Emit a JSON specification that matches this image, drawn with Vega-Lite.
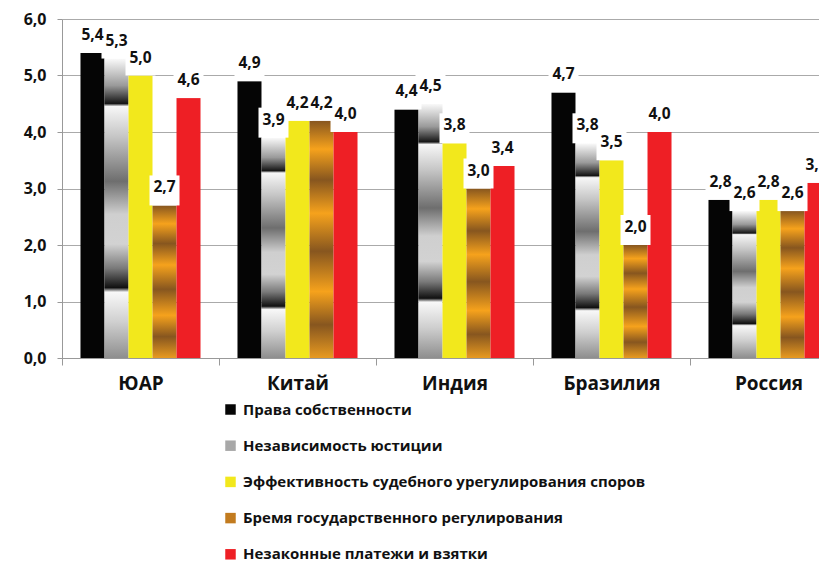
{
  "$schema": "https://vega.github.io/schema/vega-lite/v6.json",
  "width": 785,
  "height": 339,
  "autosize": {"type": "none"},
  "padding": {"left": 62, "top": 19, "right": 0, "bottom": 204},
  "background": "white",
  "config": {
    "view": {"stroke": null},
    "font": "Open Sans",
    "locale": {"number": {"decimal": ",", "thousands": " ", "grouping": [3], "currency": ["", ""]}}
  },
  "data": {
    "values": [
      {"country": "ЮАР", "series": "Права собственности", "value": 5.4},
      {"country": "ЮАР", "series": "Независимость юстиции", "value": 5.3},
      {"country": "ЮАР", "series": "Эффективность судебного урегулирования споров", "value": 5.0},
      {"country": "ЮАР", "series": "Бремя государственного регулирования", "value": 2.7},
      {"country": "ЮАР", "series": "Незаконные платежи и взятки", "value": 4.6},
      {"country": "Китай", "series": "Права собственности", "value": 4.9},
      {"country": "Китай", "series": "Независимость юстиции", "value": 3.9},
      {"country": "Китай", "series": "Эффективность судебного урегулирования споров", "value": 4.2},
      {"country": "Китай", "series": "Бремя государственного регулирования", "value": 4.2},
      {"country": "Китай", "series": "Незаконные платежи и взятки", "value": 4.0},
      {"country": "Индия", "series": "Права собственности", "value": 4.4},
      {"country": "Индия", "series": "Независимость юстиции", "value": 4.5},
      {"country": "Индия", "series": "Эффективность судебного урегулирования споров", "value": 3.8},
      {"country": "Индия", "series": "Бремя государственного регулирования", "value": 3.0},
      {"country": "Индия", "series": "Незаконные платежи и взятки", "value": 3.4},
      {"country": "Бразилия", "series": "Права собственности", "value": 4.7},
      {"country": "Бразилия", "series": "Независимость юстиции", "value": 3.8},
      {"country": "Бразилия", "series": "Эффективность судебного урегулирования споров", "value": 3.5},
      {"country": "Бразилия", "series": "Бремя государственного регулирования", "value": 2.0},
      {"country": "Бразилия", "series": "Незаконные платежи и взятки", "value": 4.0},
      {"country": "Россия", "series": "Права собственности", "value": 2.8},
      {"country": "Россия", "series": "Независимость юстиции", "value": 2.6},
      {"country": "Россия", "series": "Эффективность судебного урегулирования споров", "value": 2.8},
      {"country": "Россия", "series": "Бремя государственного регулирования", "value": 2.6},
      {"country": "Россия", "series": "Незаконные платежи и взятки", "value": 3.1}
    ]
  },
  "encoding": {
    "x": {
      "field": "country", "type": "nominal",
      "sort": ["ЮАР", "Китай", "Индия", "Бразилия", "Россия"],
      "scale": {"paddingInner": 0, "paddingOuter": 0},
      "axis": {
        "title": null, "labelAngle": 0, "labelFontSize": 19, "labelFontWeight": "bold",
        "labelColor": "#111", "labelPadding": 9, "tickBand": "extent", "tickSize": 7,
        "tickColor": "#999", "domainColor": "#999", "grid": false
      }
    },
    "xOffset": {
      "field": "series", "type": "nominal",
      "sort": ["Права собственности", "Независимость юстиции", "Эффективность судебного урегулирования споров", "Бремя государственного регулирования", "Незаконные платежи и взятки"],
      "scale": {"paddingInner": 0, "paddingOuter": 0.77}
    },
    "y": {
      "field": "value", "type": "quantitative",
      "scale": {"domain": [0, 6]},
      "axis": {
        "title": null, "values": [0, 1, 2, 3, 4, 5, 6], "format": ".1f",
        "labelFontSize": 16, "labelFontWeight": "bold", "labelColor": "#111",
        "labelPadding": 11, "tickSize": 5, "tickColor": "#999", "domainColor": "#999",
        "grid": true, "gridColor": "#aaaaaa"
      }
    }
  },
  "layer": [
    {
      "mark": {"type": "bar"},
      "encoding": {
        "color": {
          "field": "series", "type": "nominal",
          "condition": [
            {"test": "datum.series === 'Независимость юстиции'", "value": {"gradient": "linear", "x1": 0, "y1": 0, "x2": 0, "y2": 1, "stops": [
                {"offset": 0, "color": "#fafafa"},
                {"offset": 0.09, "color": "#9a9a9a"},
                {"offset": 0.15, "color": "#151515"},
                {"offset": 0.16, "color": "#f7f7f7"},
                {"offset": 0.26, "color": "#c6c6c6"},
                {"offset": 0.41, "color": "#6e6e6e"},
                {"offset": 0.52, "color": "#cfcfcf"},
                {"offset": 0.62, "color": "#d2d2d2"},
                {"offset": 0.70, "color": "#7a7a7a"},
                {"offset": 0.765, "color": "#101010"},
                {"offset": 0.78, "color": "#f8f8f8"},
                {"offset": 0.88, "color": "#cfcfcf"},
                {"offset": 1, "color": "#8e8e8e"}
              ]}},
            {"test": "datum.series === 'Бремя государственного регулирования'", "value": {"gradient": "linear", "x1": 0, "y1": 0, "x2": 0, "y2": 1, "stops": [
                {"offset": 0, "color": "#87561f"},
                {"offset": 0.12, "color": "#f6a21c"},
                {"offset": 0.25, "color": "#87561f"},
                {"offset": 0.39, "color": "#f6a21c"},
                {"offset": 0.55, "color": "#87561f"},
                {"offset": 0.72, "color": "#f6a21c"},
                {"offset": 0.86, "color": "#87561f"},
                {"offset": 1, "color": "#e89a20"}
              ]}}
          ],
          "scale": {
            "domain": ["Права собственности", "Независимость юстиции", "Эффективность судебного урегулирования споров", "Бремя государственного регулирования", "Незаконные платежи и взятки"],
            "range": ["#050505", "#a8a8a8", "#f2e81c", "#c27b1f", "#ee1f25"]
          },
          "legend": {
            "title": null, "orient": "none", "legendX": 161, "legendY": 383,
            "direction": "vertical", "symbolType": "square", "symbolSize": 110,
            "symbolStrokeWidth": 0, "labelFontSize": 15, "labelFontWeight": "bold",
            "labelColor": "#111", "rowPadding": 20.2, "labelOffset": 5, "padding": 0,
            "labelLimit": 0
          }
        }
      }
    },
    {
      "mark": {"type": "point", "shape": "square", "filled": true, "color": "white", "opacity": 1, "size": 900, "yOffset": -15, "strokeWidth": 0}
    },
    {
      "mark": {"type": "text", "fontWeight": "bold", "fontSize": 15.5, "yOffset": -18, "baseline": "middle", "color": "#111"},
      "encoding": {"text": {"field": "value", "type": "quantitative", "format": ".1f"}}
    }
  ]
}
